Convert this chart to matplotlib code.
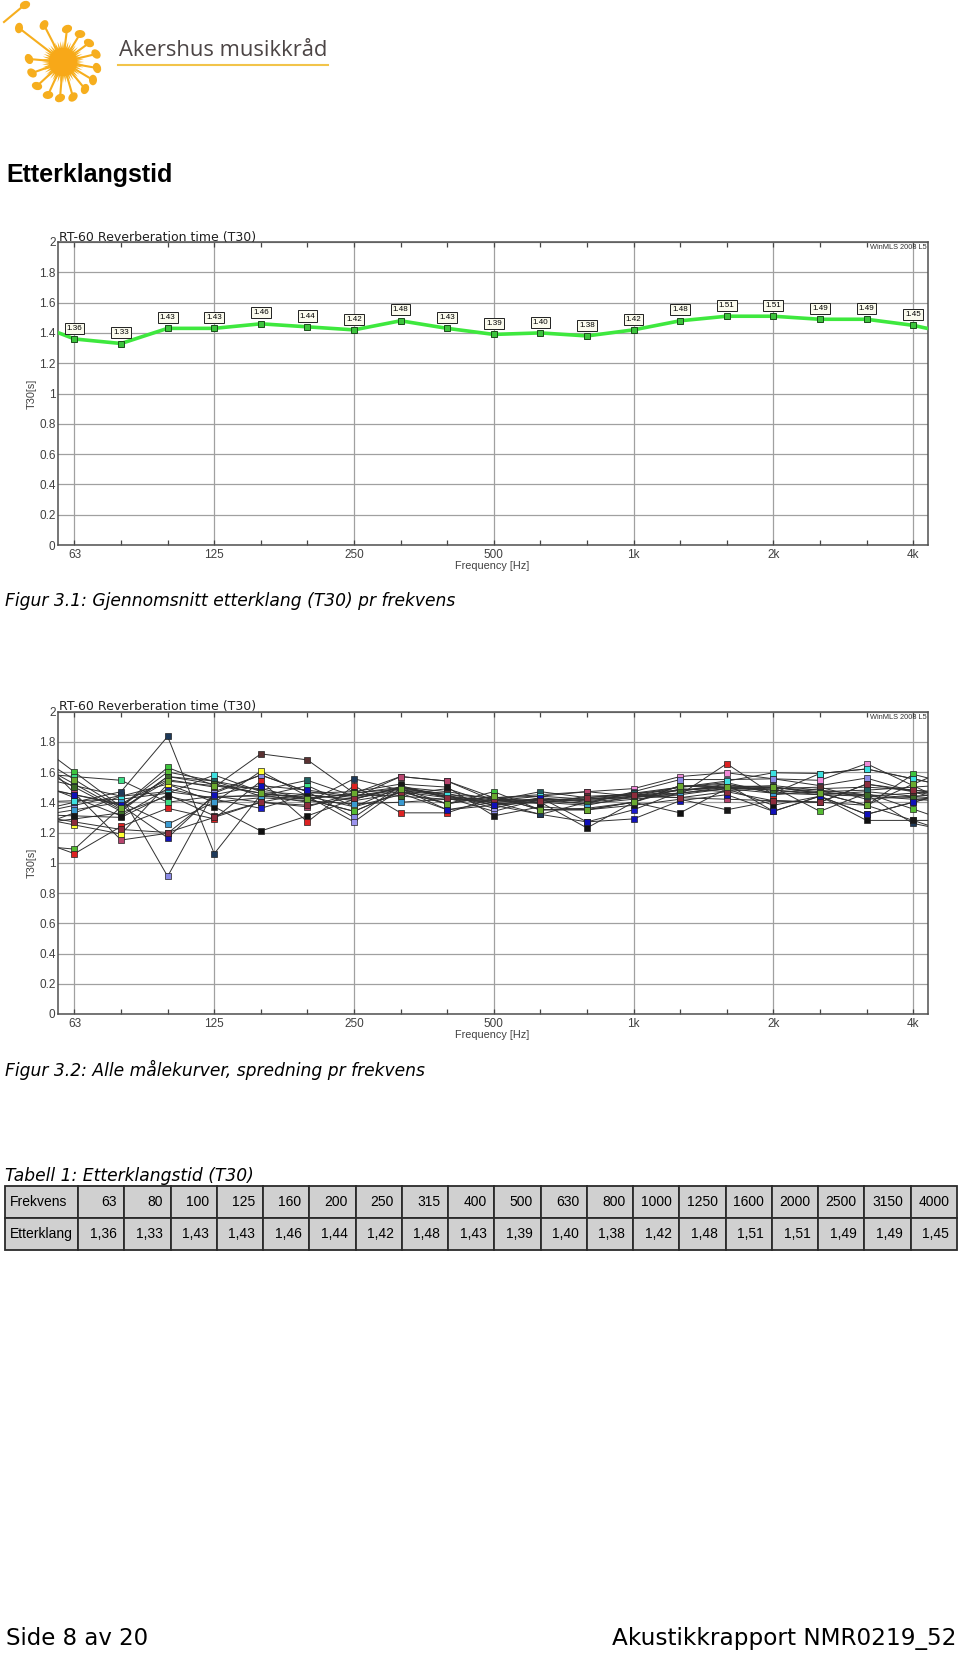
import numpy as np
import matplotlib
matplotlib.use('Agg')
import matplotlib.pyplot as plt
from matplotlib.patches import Ellipse, Polygon, Circle

W, H = 960, 1653

# ---------------- data ----------------
BANDS = ['63', '80', '100', '125', '160', '200', '250', '315', '400', '500',
         '630', '800', '1000', '1250', '1600', '2000', '2500', '3150', '4000']
AXIS_TICK_LABELS = ['63', '125', '250', '500', '1k', '2k', '4k']
AXIS_TICK_BANDS = [0, 3, 6, 9, 12, 15, 18]
Y_TICKS = [0, 0.2, 0.4, 0.6, 0.8, 1.0, 1.2, 1.4, 1.6, 1.8, 2.0]
Y_TICK_LABELS = ['0', '0.2', '0.4', '0.6', '0.8', '1', '1.2', '1.4', '1.6', '1.8', '2']

T30_MEAN = [1.36, 1.33, 1.43, 1.43, 1.46, 1.44, 1.42, 1.48, 1.43, 1.39,
            1.40, 1.38, 1.42, 1.48, 1.51, 1.51, 1.49, 1.49, 1.45]

CURVE_01 = [1.60, 1.37, 1.63, 1.51, 1.49, 1.42, 1.34, 1.47, 1.39, 1.47, 1.35, 1.35, 1.40, 1.51, 1.49, 1.50, 1.46, 1.38, 1.585]
CURVE_02 = [1.57, 1.545, 1.40, 1.44, 1.44, 1.51, 1.37, 1.50, 1.43, 1.40, 1.42, 1.42, 1.44, 1.50, 1.52, 1.46, 1.59, 1.62, 1.555]
CURVE_03 = [1.51, 1.44, 1.52, 1.46, 1.58, 1.47, 1.43, 1.57, 1.54, 1.43, 1.45, 1.47, 1.49, 1.57, 1.595, 1.555, 1.545, 1.655, 1.51]
CURVE_04 = [1.46, 1.15, 1.195, 1.44, 1.40, 1.37, 1.46, 1.57, 1.54, 1.41, 1.44, 1.47, 1.44, 1.43, 1.42, 1.41, 1.40, 1.52, 1.47]
CURVE_05 = [1.43, 1.31, 1.49, 1.42, 1.36, 1.45, 1.41, 1.46, 1.35, 1.40, 1.32, 1.27, 1.35, 1.47, 1.52, 1.34, 1.44, 1.32, 1.40]
CURVE_06 = [1.38, 1.445, 0.91, 1.47, 1.58, 1.47, 1.30, 1.51, 1.43, 1.34, 1.42, 1.39, 1.47, 1.55, 1.55, 1.555, 1.51, 1.56, 1.47]
CURVE_07 = [1.33, 1.44, 1.47, 1.43, 1.45, 1.44, 1.27, 1.49, 1.45, 1.36, 1.43, 1.40, 1.46, 1.50, 1.53, 1.46, 1.49, 1.50, 1.48]
CURVE_08 = [1.29, 1.33, 1.44, 1.37, 1.21, 1.31, 1.42, 1.50, 1.44, 1.38, 1.40, 1.23, 1.40, 1.33, 1.49, 1.38, 1.44, 1.28, 1.28]
CURVE_09 = [1.25, 1.19, 1.52, 1.40, 1.605, 1.44, 1.37, 1.45, 1.49, 1.39, 1.40, 1.42, 1.43, 1.46, 1.50, 1.48, 1.45, 1.47, 1.44]
CURVE_10 = [1.09, 1.37, 1.60, 1.54, 1.44, 1.42, 1.34, 1.47, 1.39, 1.44, 1.35, 1.36, 1.40, 1.49, 1.47, 1.50, 1.34, 1.46, 1.355]
CURVE_11 = [1.06, 1.24, 1.36, 1.29, 1.54, 1.27, 1.51, 1.33, 1.33, 1.43, 1.40, 1.38, 1.44, 1.45, 1.655, 1.45, 1.47, 1.44, 1.46]
CURVE_12 = [1.40, 1.47, 1.835, 1.06, 1.45, 1.40, 1.555, 1.48, 1.46, 1.38, 1.32, 1.40, 1.43, 1.48, 1.50, 1.51, 1.48, 1.45, 1.26]
CURVE_13 = [1.45, 1.39, 1.55, 1.50, 1.72, 1.68, 1.46, 1.50, 1.47, 1.42, 1.39, 1.44, 1.45, 1.46, 1.49, 1.49, 1.50, 1.42, 1.44]
CURVE_14 = [1.52, 1.35, 1.57, 1.54, 1.48, 1.545, 1.44, 1.48, 1.44, 1.41, 1.47, 1.43, 1.46, 1.48, 1.51, 1.50, 1.47, 1.48, 1.50]
CURVE_15 = [1.41, 1.42, 1.46, 1.58, 1.47, 1.45, 1.42, 1.50, 1.45, 1.43, 1.44, 1.42, 1.45, 1.50, 1.54, 1.595, 1.59, 1.62, 1.555]
CURVE_16 = [1.35, 1.40, 1.255, 1.40, 1.43, 1.41, 1.39, 1.40, 1.42, 1.40, 1.41, 1.39, 1.42, 1.45, 1.49, 1.46, 1.45, 1.44, 1.42]
CURVE_17 = [1.50, 1.34, 1.57, 1.52, 1.46, 1.43, 1.45, 1.44, 1.42, 1.41, 1.42, 1.41, 1.44, 1.48, 1.50, 1.48, 1.46, 1.45, 1.43]
CURVE_18 = [1.31, 1.30, 1.45, 1.31, 1.40, 1.46, 1.47, 1.52, 1.50, 1.31, 1.37, 1.35, 1.38, 1.42, 1.35, 1.41, 1.40, 1.38, 1.28]
CURVE_19 = [1.45, 1.38, 1.165, 1.45, 1.51, 1.48, 1.44, 1.49, 1.35, 1.38, 1.43, 1.27, 1.29, 1.41, 1.45, 1.34, 1.44, 1.32, 1.40]
CURVE_20 = [1.27, 1.22, 1.20, 1.30, 1.40, 1.38, 1.43, 1.47, 1.43, 1.42, 1.41, 1.43, 1.45, 1.43, 1.47, 1.41, 1.40, 1.52, 1.48]
CURVE_21 = [1.55, 1.36, 1.54, 1.51, 1.46, 1.42, 1.46, 1.49, 1.39, 1.44, 1.35, 1.35, 1.40, 1.51, 1.50, 1.50, 1.46, 1.38, 1.52]

CURVES = [CURVE_01, CURVE_02, CURVE_03, CURVE_04, CURVE_05, CURVE_06, CURVE_07,
          CURVE_08, CURVE_09, CURVE_10, CURVE_11, CURVE_12, CURVE_13, CURVE_14,
          CURVE_15, CURVE_16, CURVE_17, CURVE_18, CURVE_19, CURVE_20, CURVE_21]
CURVE_COLORS = ['#3cc43c', '#3ddc84', '#f08ad8', '#b8446e', '#1a1acc', '#8a8ae6',
                '#9c94ee', '#101010', '#ffff33', '#55bb33', '#dd2222', '#1e3a5a',
                '#5a3232', '#206060', '#3de0e0', '#3a9ad0', '#3a6a26', '#181818',
                '#1010b8', '#8c2c3c', '#6aaa30']

# ---------------- figure ----------------
fig = plt.figure(figsize=(W / 100, H / 100), dpi=100)
fig.patch.set_facecolor('white')


def fy(y):
    return 1 - y / H


# ---------- logo ----------
lax = fig.add_axes([0, 0, 1, 1])
lax.set_xlim(0, W)
lax.set_ylim(H, 0)
lax.axis('off')
SUN = '#f6ae1e'
cx, cy = 63, 62
n_sp = 48
ang = np.linspace(0, 2 * np.pi, 2 * n_sp, endpoint=False)
rad = np.where(np.arange(2 * n_sp) % 2 == 0, 21, 14)
lax.add_patch(Polygon(np.c_[cx + rad * np.cos(ang), cy + rad * np.sin(ang)],
                      closed=True, fc=SUN, ec='none'))
lax.add_patch(Circle((cx, cy), 14, fc='#f8a818', ec='none'))
heads = [(44, 25), (67, 29), (80, 34), (89, 43), (96, 54), (97, 68), (93, 80),
         (85, 89), (73, 97), (60, 98), (48, 95), (37, 86), (32, 73), (29, 59), (19, 28)]
for hx, hy in heads:
    dx, dy = hx - cx, hy - cy
    d = np.hypot(dx, dy)
    ux, uy = dx / d, dy / d
    lax.plot([cx + ux * 15, hx - ux * 3], [cy + uy * 15, hy - uy * 3], color=SUN, lw=1.5)
    lax.add_patch(Ellipse((hx, hy), 10.5, 8, angle=np.degrees(np.arctan2(dy, dx)) + 60,
                          fc=SUN, ec='none'))
lax.plot([4, 22], [22, 7], color=SUN, lw=1.5)
lax.add_patch(Ellipse((25, 5), 10.5, 8, angle=-20, fc=SUN, ec='none'))
lax.plot([118, 328], [65, 65], color='#f2c44a', lw=1.5)
lax.text(119, 56, 'Akershus musikkråd', fontsize=15.8, family='Open Sans',
         color='#4c4545', ha='left', va='baseline')

# ---------- page texts ----------
fig.text(6 / W, fy(182), 'Etterklangstid', fontsize=18, fontweight='bold',
         family='Liberation Sans', ha='left', va='baseline')
fig.text(5 / W, fy(606), 'Figur 3.1: Gjennomsnitt etterklang (T30) pr frekvens',
         fontsize=12.3, style='italic', family='DejaVu Sans', ha='left', va='baseline')
fig.text(5 / W, fy(1076), 'Figur 3.2: Alle målekurver, spredning pr frekvens',
         fontsize=12.3, style='italic', family='DejaVu Sans', ha='left', va='baseline')
fig.text(5 / W, fy(1181), 'Tabell 1: Etterklangstid (T30)',
         fontsize=12.3, style='italic', family='DejaVu Sans', ha='left', va='baseline')
fig.text(6 / W, fy(1645), 'Side 8 av 20', fontsize=16.5, family='DejaVu Sans',
         ha='left', va='baseline')
fig.text(956 / W, fy(1645), 'Akustikkrapport NMR0219_52', fontsize=16.7,
         family='DejaVu Sans', ha='right', va='baseline')

# ---------- charts ----------
X0, X1 = -0.36, 18.32
AX_L, AX_R = 57.7, 928.0


def make_chart(top, bottom):
    ax = fig.add_axes([AX_L / W, fy(bottom), (AX_R - AX_L) / W, (bottom - top) / H])
    ax.set_xlim(X0, X1)
    ax.set_ylim(0, 2)
    ax.set_yticks(Y_TICKS)
    ax.set_yticklabels(Y_TICK_LABELS)
    ax.set_xticks(AXIS_TICK_BANDS)
    ax.set_xticklabels(AXIS_TICK_LABELS)
    ax.set_xticks([i for i in range(len(BANDS)) if i not in AXIS_TICK_BANDS], minor=True)
    ax.tick_params(axis='y', length=0, pad=1.5, labelsize=8.5, labelcolor='#404040')
    ax.tick_params(axis='x', which='both', direction='in', length=3.5, top=True,
                   color='#444444', width=0.9)
    ax.tick_params(axis='x', which='major', pad=3, labelsize=8.5, labelcolor='#404040')
    for lab in ax.get_xticklabels() + ax.get_yticklabels():
        lab.set_family('Liberation Sans')
    ax.grid(True, which='major', color='#a0a0a0', lw=0.9)
    ax.set_axisbelow(True)
    for s in ax.spines.values():
        s.set_color('#505050')
        s.set_linewidth(1.1)
    ax.set_xlabel('Frequency [Hz]', fontsize=7.8, color='#404040', family='Liberation Sans')
    ax.xaxis.set_label_coords(0.499, -0.052)
    ax.set_ylabel('T30[s]', fontsize=7.8, color='#404040', family='Liberation Sans')
    ax.yaxis.set_label_coords(-0.024, 0.5)
    ax.text(0.001, 1.004, 'RT-60 Reverberation time (T30)', transform=ax.transAxes,
            fontsize=9.0, color='#202020', ha='left', va='baseline', family='DejaVu Sans')
    ax.text(0.998, 0.992, 'WinMLS 2008 L5', transform=ax.transAxes, fontsize=5.3,
            color='#303030', ha='right', va='top', family='Liberation Sans')
    return ax


idx = np.arange(len(BANDS))

# top chart: mean curve
ax1 = make_chart(242, 545)
mean = np.array(T30_MEAN)
pl = np.polyfit(idx[:3], mean[:3], 2)
pr = np.polyfit(idx[-3:], mean[-3:], 2)
xs = np.r_[X0, idx, X1]
ys = np.r_[np.polyval(pl, X0), mean, np.polyval(pr, X1)]
ax1.plot(xs, ys, color='#3ee83e', lw=2.6, zorder=3, solid_capstyle='butt')
ax1.plot(idx, mean, ls='none', marker='s', ms=4.3, mfc='#3cc43c', mec='#1a4d1a',
         mew=0.7, zorder=4)
for i, v in zip(idx, T30_MEAN):
    ax1.annotate(f'{v:.2f}', (i, v), xytext=(0, 7.8), textcoords='offset points',
                 ha='center', va='center', fontsize=5.8, family='Liberation Sans',
                 bbox=dict(boxstyle='square,pad=0.25', fc='#fbfbee', ec='#202020', lw=0.7),
                 zorder=5)

# bottom chart: all curves
ax2 = make_chart(711.5, 1014)
for c in CURVES:
    c = np.array(c)
    yl = np.clip(c[0] + (c[0] - c[1]) * (0 - X0), 1.1, 1.82)
    yr = np.clip(c[-1] + (c[-1] - c[-2]) * (X1 - 18), 1.24, 1.56)
    ax2.plot(np.r_[X0, idx, X1], np.r_[yl, c, yr], color='#303030', lw=0.7, zorder=3)
for c, col in zip(CURVES, CURVE_COLORS):
    ax2.plot(idx, c, ls='none', marker='s', ms=4.8, mfc=col, mec='#202020',
             mew=0.5, zorder=4)

# ---------- table ----------
tab_ax = fig.add_axes([5 / W, fy(1250), 952 / W, 64 / H])
tab_ax.axis('off')
cell_text = [['Frekvens'] + BANDS,
             ['Etterklang'] + [f'{v:.2f}'.replace('.', ',') for v in T30_MEAN]]
first_w = 73.0
other_w = (952.0 - first_w) / len(BANDS)
col_widths = [first_w / 952] + [other_w / 952] * len(BANDS)
tbl = tab_ax.table(cellText=cell_text, colWidths=col_widths, cellLoc='right',
                   bbox=[0, 0, 1, 1])
tbl.auto_set_font_size(False)
tbl.set_fontsize(10)
for (r, c), cell in tbl.get_celld().items():
    cell.set_facecolor('#d0d0d0')
    cell.set_edgecolor('#2a2a2a')
    cell.set_linewidth(1.3)
    cell.get_text().set_family('Liberation Sans')
    if c == 0:
        cell._loc = 'left'
        cell.get_text().set_horizontalalignment('left')
        cell.PAD = 0.06
    else:
        cell.PAD = 0.17

fig.savefig('out.png', dpi=100, facecolor='white')
